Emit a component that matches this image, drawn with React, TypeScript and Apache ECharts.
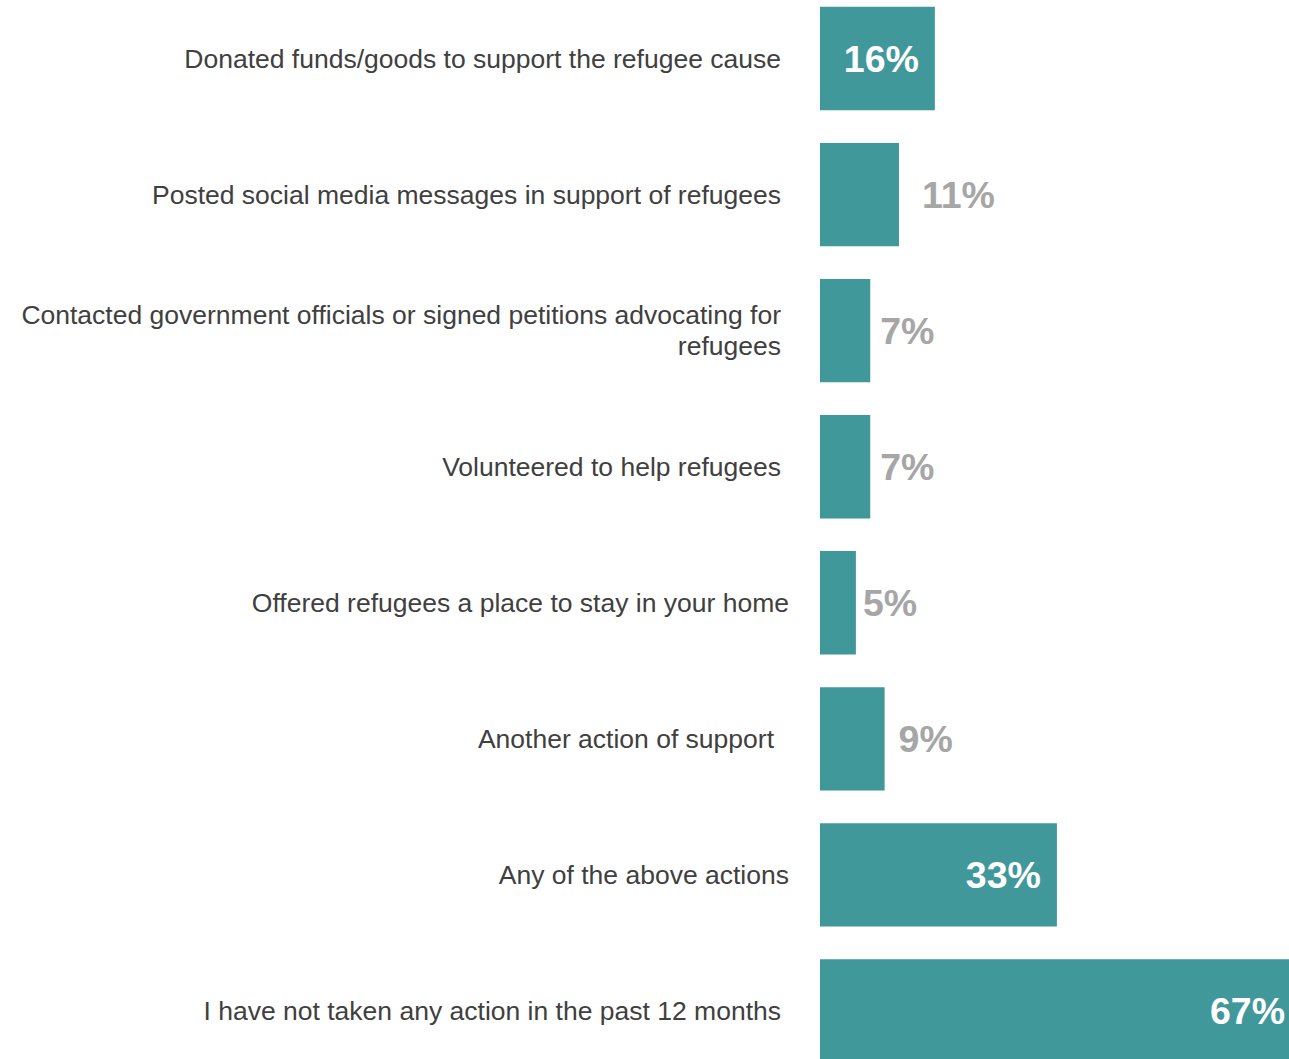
import React, { useEffect, useRef } from "react";
import * as echarts from "echarts";

const categories = [
  "Donated funds/goods to support the refugee cause",
  "Posted social media messages in support of refugees",
  "Contacted government officials or signed petitions advocating for\nrefugees",
  "Volunteered to help refugees",
  "Offered refugees a place to stay in your home",
  "Another action of support",
  "Any of the above actions",
  "I have not taken any action in the past 12 months",
];
const values = [16, 11, 7, 7, 5, 9, 33, 67];

// styling helpers (not data)
const labelRightPad = [8, 8, 8, 8, 0, 15, 0, 8];
const outsideGap = [16, 23, 10, 10, 7, 14, 16, 16];

const FONT = "'Liberation Sans', Arial, Helvetica, sans-serif";
const TEAL = "#41989A";
const CAT_FONT = 26.5;

export default function App() {
  const ref = useRef<HTMLDivElement>(null);
  useEffect(() => {
    document.body.style.margin = "0";
    const chart = echarts.init(ref.current!, null, { renderer: "svg" });
    const rich: any = {};
    [0, 8, 15].forEach((w) => {
      rich["s" + w] = { width: w, lineHeight: 31, fontSize: CAT_FONT, fontFamily: FONT };
    });
    chart.setOption({
      animation: false,
      grid: {
        left: 820,
        right: -12,
        top: -9.5,
        bottom: -20,
        containLabel: false,
        outerBoundsMode: "none",
      },
      xAxis: { type: "value", min: 0, max: 67, show: false },
      yAxis: {
        type: "category",
        inverse: true,
        data: categories,
        axisLine: { show: false },
        axisTick: { show: false },
        splitLine: { show: false },
        axisLabel: {
          margin: 31,
          fontSize: CAT_FONT,
          lineHeight: 31,
          color: "#404040",
          fontFamily: FONT,
          rich,
          formatter: (val: string, idx: number) => {
            const pad = labelRightPad[idx];
            if (!pad) return val;
            return val
              .split("\n")
              .map((line) => `${line}{s${pad}| }`)
              .join("\n");
          },
        },
      },
      series: [
        {
          type: "bar",
          barCategoryGap: "24%",
          itemStyle: { color: TEAL },
          data: values.map((v, i) => {
            const inside = v >= 15;
            return {
              value: v,
              label: {
                show: true,
                position: inside ? "insideRight" : "right",
                distance: outsideGap[i],
                formatter: "{c}%",
                fontSize: 37.5,
                fontWeight: "bold",
                fontFamily: FONT,
                color: inside ? "#FFFFFF" : "#A6A6A6",
              },
            };
          }),
        },
      ],
    });
    return () => chart.dispose();
  }, []);
  return (
    <div
      ref={ref}
      style={{ position: "absolute", left: 0, top: 0, width: 1289, height: 1059 }}
    />
  );
}
